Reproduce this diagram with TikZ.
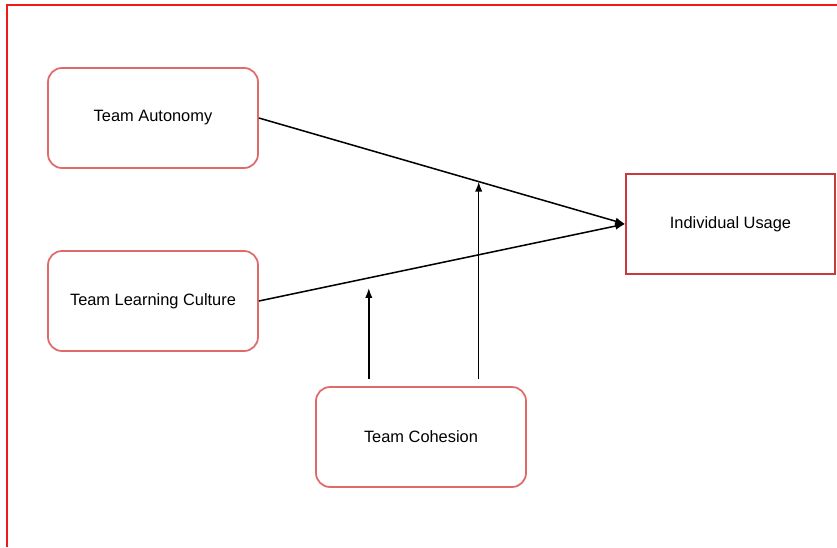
\documentclass[tikz,border=0pt]{standalone}
\usepackage{fontspec}
\setmainfont{Liberation Sans}
\usepackage{tikz}
\usetikzlibrary{arrows.meta, positioning, calc}
\definecolor{frame-red}{HTML}{F01818}
\definecolor{box-pink}{HTML}{E06A6A}
\definecolor{box-red}{HTML}{C83A3A}

\begin{document}
\begin{tikzpicture}[
	x=0.03cm, y=-0.03cm,
	factor/.style={
		draw=box-pink, fill=white, line width=1.5pt,
		rounded corners=0.42cm, minimum width=6.3cm,
		minimum height=3cm, align=center,
		font=\fontsize{14}{16}\selectfont
	},
	outcome/.style={
		draw=box-red, fill=white, line width=1.3pt,
		minimum width=6.27cm, minimum height=3cm,
		align=center, font=\fontsize{14}{16}\selectfont
	},
	link/.style={-{Latex[length=3mm, width=2.2mm]}, line width=1.3pt, black}
	]
	\useasboundingbox (0,0) rectangle (837,547);
	% frame
	\draw[frame-red, line width=1.7pt] (7,547) -- (7,5) -- (837,5);
	% nodes
	\node[factor] (ta) at (153,118) {Team Autonomy};
	\node[factor] (tlc) at (153,301) {Team Learning Culture};
	\node[factor] (tc) at (421,437) {Team Cohesion};
	\node[outcome] (iu) at (730.5,224) {Individual Usage};
	% main paths
	\draw[link] (ta.east) -- (iu.west);
	\draw[link] (tlc.east) -- (iu.west);
	% moderation
	\coordinate (ma) at ($(ta.east)!0.6!(iu.west)$);
	\coordinate (mb) at ($(tlc.east)!0.3!(iu.west)$);
	\draw[link] ([yshift=0.21cm]tc.north -| ma) -- (ma);
	\draw[link] ([yshift=0.21cm]tc.north -| mb) -- ([yshift=-0.3cm]mb);
\end{tikzpicture}
\end{document}
